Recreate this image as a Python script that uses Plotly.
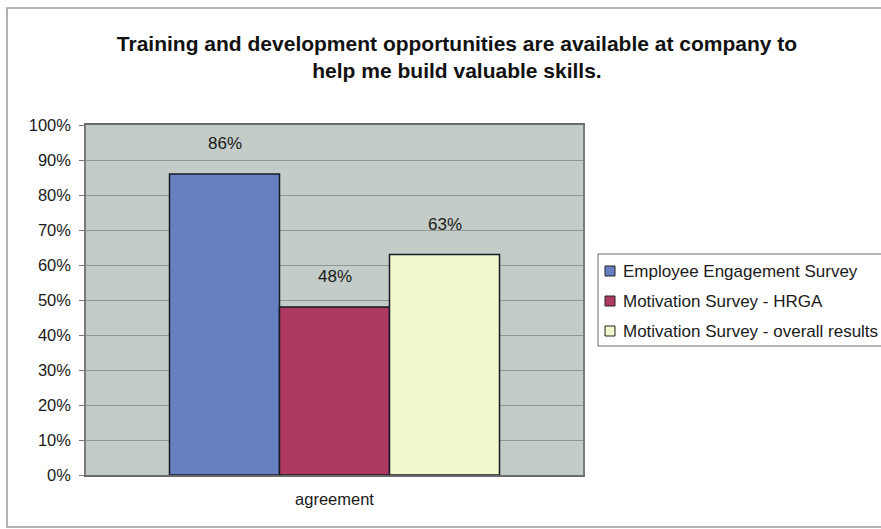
import plotly.graph_objects as go

# Survey agreement data
categories = ["agreement"]
series_names = [
    "Employee Engagement Survey",
    "Motivation Survey - HRGA",
    "Motivation Survey - overall results",
]
series_values = [86, 48, 63]
series_colors = ["#6680C2", "#AE3A62", "#F0F8CC"]
y_tick_values = list(range(0, 101, 10))
y_tick_labels = [f"{v}%" for v in y_tick_values]

FONT = "Liberation Sans, Arial, sans-serif"
W, H = 881, 529
L, R, T, B = 86, 298, 125, 54
plot_w = W - L - R
plot_h = H - T - B


def px_x(p):
    """pixel column -> paper x"""
    return (p - L) / plot_w


def px_y(p):
    """pixel row -> paper y"""
    return (H - B - p) / plot_h


bargap = 0.336
n = len(series_values)
bar_w = (1 - bargap) / n

fig = go.Figure()
for name, val, col in zip(series_names, series_values, series_colors):
    fig.add_trace(go.Bar(
        x=categories, y=[val], name=name, showlegend=False,
        marker=dict(color=col, line=dict(color="#151a26", width=1.5)),
    ))

# value labels above each bar
for i, val in enumerate(series_values):
    xc = -(1 - bargap) / 2 + bar_w * (i + 0.5)
    fig.add_annotation(
        x=xc, y=val, text=f"{val}%", showarrow=False,
        yanchor="bottom", yshift=19,
        font=dict(family=FONT, size=17, color="#1a1a1a"),
    )

# outer chart frame
fig.add_shape(
    type="rect", xref="paper", yref="paper",
    x0=px_x(7), x1=px_x(W + 40),
    y0=px_y(527), y1=px_y(8),
    line=dict(color="#9a9a9a", width=1.5), layer="below",
)

# legend box with square swatches
leg_left, leg_top, leg_bottom = 598, 254, 346
fig.add_shape(
    type="rect", xref="paper", yref="paper",
    x0=px_x(leg_left), x1=px_x(W + 40),
    y0=px_y(leg_bottom), y1=px_y(leg_top),
    line=dict(color="#6a6a6a", width=1), fillcolor="white",
)
row_step = 30
first_row = 271
for i, (name, col) in enumerate(zip(series_names, series_colors)):
    cy = first_row + i * row_step
    fig.add_shape(
        type="rect", xref="paper", yref="paper",
        x0=px_x(605), x1=px_x(615), y0=px_y(cy + 5), y1=px_y(cy - 5),
        line=dict(color="#222222", width=1), fillcolor=col,
    )
    fig.add_annotation(
        xref="paper", yref="paper", x=px_x(621), y=px_y(cy),
        text=name, showarrow=False, xanchor="left", yanchor="middle",
        font=dict(family=FONT, size=17, color="#1a1a1a"),
    )

fig.update_layout(
    width=W, height=H,
    margin=dict(l=L, r=R, t=T, b=B),
    paper_bgcolor="white",
    plot_bgcolor="#C3CCC6",
    barmode="group", bargap=bargap, bargroupgap=0,
    font=dict(family=FONT, size=17, color="#1a1a1a"),
    title=dict(
        text="<b>Training and development opportunities are available at company to<br>help me build valuable skills.</b>",
        x=457 / W, xanchor="center", y=1 - 51 / H, yanchor="middle",
        font=dict(family=FONT, size=21, color="#111111"),
    ),
    showlegend=False,
)
fig.update_yaxes(
    range=[0, 100], tickvals=y_tick_values, ticktext=y_tick_labels,
    showgrid=True, gridcolor="#8E9893", gridwidth=1,
    showline=True, linecolor="#7a7a7a", linewidth=1.5, mirror=True,
    ticks="outside", ticklen=5, tickcolor="#7a7a7a",
    ticklabelstandoff=5, tickfont=dict(size=16.5),
    zeroline=False,
)
fig.update_xaxes(
    showline=True, linecolor="#6a6a6a", linewidth=1.5, mirror=True,
    ticks="", tickfont=dict(size=16.5), ticklabelstandoff=8,
)

fig.write_html("out.html")
